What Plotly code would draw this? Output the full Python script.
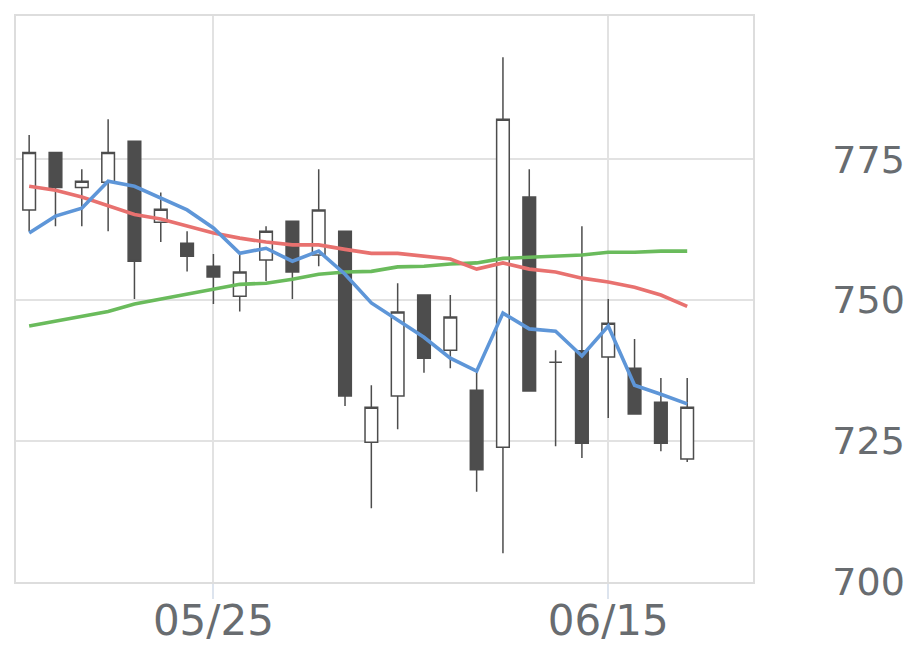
import plotly.graph_objects as go

dates = ["2020-05-14", "2020-05-15", "2020-05-18", "2020-05-19", "2020-05-20", "2020-05-21",
         "2020-05-22", "2020-05-25", "2020-05-26", "2020-05-27", "2020-05-28", "2020-05-29",
         "2020-06-01", "2020-06-02", "2020-06-03", "2020-06-04", "2020-06-05", "2020-06-08",
         "2020-06-09", "2020-06-10", "2020-06-11", "2020-06-12", "2020-06-15", "2020-06-16",
         "2020-06-17", "2020-06-18"]

open_ = [766.0, 776.2, 770.0, 770.9, 778.2, 763.8, 760.1, 756.0, 750.7, 757.1, 764.0, 758.0,
         762.2, 724.8, 733.0, 750.9, 741.1, 734.0, 723.9, 768.3, 739.0, 741.0, 739.9, 737.9,
         731.9, 721.8]
high = [779.3, 776.2, 773.2, 782.1, 778.2, 769.1, 762.2, 758.2, 758.0, 763.1, 764.0, 773.2,
        762.2, 734.9, 753.0, 750.9, 750.9, 737.2, 793.1, 773.2, 741.1, 763.1, 750.2, 743.1,
        736.2, 736.2]
low = [762.2, 763.1, 763.1, 762.2, 750.2, 760.3, 755.1, 749.3, 748.0, 753.4, 750.2, 756.0,
       731.2, 713.1, 727.1, 737.1, 737.9, 716.0, 705.1, 733.9, 724.1, 722.0, 729.1, 729.8,
       723.2, 721.3]
close = [776.2, 770.0, 771.1, 776.2, 756.9, 766.1, 757.8, 754.1, 755.0, 762.2, 755.0, 766.0,
         733.0, 731.0, 747.9, 739.7, 747.0, 719.9, 782.1, 733.9, 739.0, 724.6, 745.9, 729.8,
         724.6, 731.0]

ma_short = [761.9, 764.9, 766.3, 771.1, 770.2, 768.1, 766.0, 762.8, 758.3, 759.2, 756.9, 758.7,
            754.6, 749.5, 746.5, 743.4, 739.7, 737.4, 747.7, 744.9, 744.5, 740.1, 745.4, 734.9,
            733.3, 731.6]
ma_mid = [770.2, 769.5, 768.3, 766.7, 765.2, 764.4, 763.1, 761.9, 761.0, 760.3, 759.8, 759.8,
          759.0, 758.3, 758.3, 757.8, 757.3, 755.5, 756.6, 755.5, 755.0, 753.9, 753.2, 752.3,
          750.9, 748.9]
ma_long = [745.4, 746.3, 747.2, 748.0, 749.3, 750.2, 751.1, 751.9, 752.8, 753.0, 753.7, 754.6,
           755.0, 755.1, 755.9, 756.0, 756.4, 756.6, 757.4, 757.6, 757.8, 758.0, 758.5, 758.5,
           758.7, 758.7]

x_tick_vals = ["2020-05-25", "2020-06-15"]
x_tick_text = ["05/25", "06/15"]
y_tick_vals = [700, 725, 750, 775]

dark = "#4d4d4d"
fig = go.Figure()
fig.add_trace(go.Candlestick(
    x=dates, open=open_, high=high, low=low, close=close,
    increasing=dict(line=dict(color=dark, width=1.5), fillcolor="white"),
    decreasing=dict(line=dict(color=dark, width=1.5), fillcolor=dark),
    whiskerwidth=0, showlegend=False,
))
for vals, col in [(ma_long, "#6abb5c"), (ma_mid, "#e8716f"), (ma_short, "#5e96d8")]:
    fig.add_trace(go.Scatter(x=dates, y=vals, mode="lines",
                             line=dict(color=col, width=3.6), showlegend=False))

fig.update_layout(
    width=920, height=669,
    margin=dict(l=16, r=167, t=16, b=87),
    paper_bgcolor="white", plot_bgcolor="white",
    boxgap=0.52, boxgroupgap=0,
    font=dict(family="DejaVu Sans", size=38, color="#686c70"),
    xaxis=dict(type="category", range=[-0.5, 27.5], rangeslider=dict(visible=False),
               tickvals=x_tick_vals, ticktext=x_tick_text, tickfont=dict(size=42),
               showgrid=True, gridcolor="#e2e2e2", gridwidth=1.5,
               showline=True, mirror=True, linecolor="#dddddd", linewidth=1.5,
               ticks="outside", ticklen=15, tickcolor="#dde4ee", tickwidth=1.5,
               ticklabelstandoff=-14, automargin=False),
    yaxis=dict(side="right", range=[700, 800.4], tickvals=y_tick_vals,
               showgrid=True, gridcolor="#e2e2e2", gridwidth=1.5,
               showline=True, mirror=True, linecolor="#dddddd", linewidth=1.5,
               ticks="", ticklabelstandoff=70, zeroline=False, automargin=False),
)
fig.write_html("out.html")
